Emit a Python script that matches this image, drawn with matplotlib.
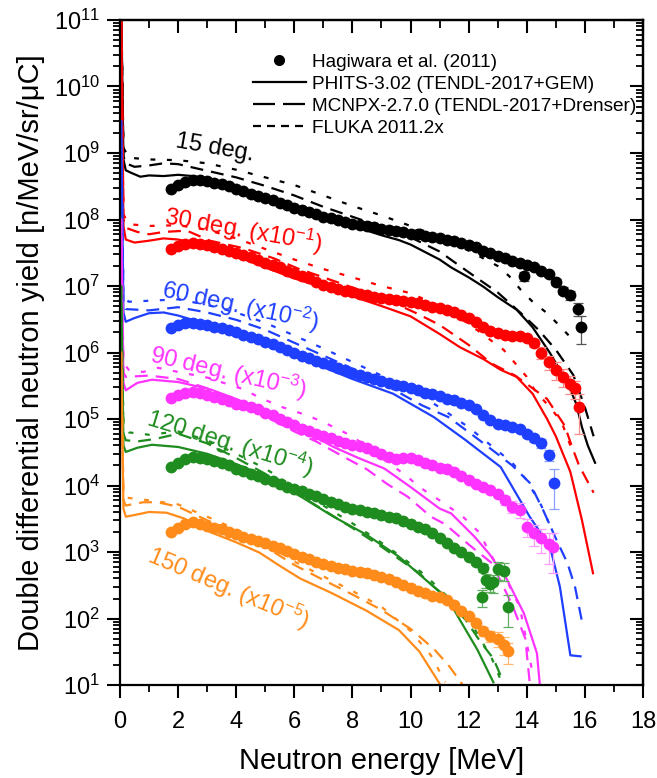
import numpy as np
import matplotlib.pyplot as plt
from matplotlib.lines import Line2D
from matplotlib.ticker import MultipleLocator, LogLocator, NullFormatter

plt.rcParams['font.family'] = ['Liberation Sans', 'DejaVu Sans']
plt.rcParams['mathtext.fontset'] = 'custom'
plt.rcParams['mathtext.rm'] = 'Liberation Sans'
plt.rcParams['mathtext.it'] = 'Liberation Sans:italic'
plt.rcParams['mathtext.bf'] = 'Liberation Sans:bold'
plt.rcParams['mathtext.default'] = 'regular'

# energy bins of the measured spectra [MeV]
e_bins = [1.75, 2.0, 2.25, 2.5, 2.75, 3.0, 3.25, 3.5, 3.75, 4.0, 4.25, 4.5,
          4.75, 5.0, 5.25, 5.5, 5.75, 6.0, 6.25, 6.5, 6.75, 7.0, 7.25, 7.5,
          7.75, 8.0, 8.25, 8.5, 8.75, 9.0, 9.25, 9.5, 9.75, 10.0, 10.25, 10.5,
          10.75, 11.0, 11.25, 11.5, 11.75, 12.0, 12.25, 12.5, 12.75, 13.0,
          13.25, 13.5, 13.75, 14.0, 14.25, 14.5, 14.75, 15.0, 15.25, 15.5,
          15.75]

# ---- 15 deg ----
meas15 = [2.9e8, 3.3e8, 3.7e8, 3.9e8, 3.9e8, 3.8e8, 3.6e8, 3.4e8, 3.2e8, 2.9e8,
          2.7e8, 2.45e8, 2.25e8, 2.1e8, 1.95e8, 1.8e8, 1.65e8, 1.5e8, 1.4e8,
          1.3e8, 1.2e8, 1.1e8, 1.05e8, 9.8e7, 9.2e7, 8.7e7, 8.3e7, 7.9e7, 7.6e7,
          7.2e7, 7.0e7, 6.7e7, 6.4e7, 6.1e7, 6.0e7, 5.7e7, 5.4e7, 5.2e7, 5.0e7,
          4.7e7, 4.5e7, 4.2e7, 3.8e7, 3.4e7, 3.1e7, 2.8e7, 2.6e7, 2.4e7, 2.25e7,
          2.1e7, 1.9e7, 1.7e7, 1.5e7, 1.15e7, 8.5e6, 7.2e6, 4.5e6]
tail15_x = [13.9, 15.85]
tail15_y = [1.4e7, 2.4e6]
rel15 = [0.05, 0.15, 0.05, 0.06, 0.07, 0.08, 0.1, 0.12, 0.15, 0.22, 0.45]
phits15_x = [0.04, 0.12, 0.2, 0.4, 0.7, 1.0, 1.5, 2.0, 2.5, 3.0, 4.0, 5.0, 6.0,
             7.0, 8.0, 9.0, 9.6, 10.0, 11.0, 11.4, 12.0, 12.5, 13.0, 13.65,
             14.2, 14.8, 15.4, 15.7, 15.9, 16.1, 16.35]
phits15_y = [2e11, 8e8, 5.5e8, 5.0e8, 4.4e8, 4.6e8, 4.5e8, 4.7e8, 4.5e8, 4.1e8,
             3.1e8, 2.2e8, 1.55e8, 1.1e8, 8.0e7, 5.8e7, 4.9e7, 4.2e7, 2.5e7,
             1.9e7, 1.35e7, 9.8e6, 6.8e6, 4.4e6, 2.4e6, 9.8e5, 3.5e5, 1.7e5,
             7.5e4, 4e4, 2.2e4]
mcnpx15_x = [0.04, 0.12, 0.2, 0.5, 1.0, 1.5, 2.0, 3.0, 4.0, 5.0, 6.0, 7.0, 8.0,
             9.0, 10.0, 11.0, 11.5, 12.2, 13.0, 13.8, 14.4, 15.0, 15.6, 16.0,
             16.3]
mcnpx15_y = [2e11, 9e8, 7e8, 6.2e8, 6.5e8, 7.0e8, 6.8e8, 5.4e8, 4.3e8, 3.2e8,
             2.3e8, 1.55e8, 1.1e8, 7.8e7, 5.4e7, 3.3e7, 2.3e7, 1.4e7, 8.0e6,
             3.9e6, 2.2e6, 1.1e6, 4.6e5, 1.5e5, 5.5e4]
fluka15_x = [0.04, 0.12, 0.3, 1.0, 2.0, 3.0, 4.0, 5.0, 6.0, 7.0, 8.0, 9.0, 10.0,
             11.0, 12.0, 13.0, 13.4, 13.8, 14.2, 14.7, 15.1, 15.5]
fluka15_y = [2e11, 1.2e9, 8.5e8, 8.0e8, 7.8e8, 7.0e8, 5.6e8, 4.3e8, 3.3e8,
             2.3e8, 1.6e8, 1.15e8, 8.0e7, 5.5e7, 3.4e7, 2.0e7, 1.4e7, 8.7e6,
             5.8e6, 3.9e6, 2.6e6, 1.7e6]

# ---- 30 deg (x10^-1) ----
meas30 = [3.6e7, 4.0e7, 4.3e7, 4.4e7, 4.3e7, 4.1e7, 3.9e7, 3.6e7, 3.4e7, 3.1e7,
          2.9e7, 2.7e7, 2.45e7, 2.25e7, 2.05e7, 1.9e7, 1.7e7, 1.55e7, 1.4e7,
          1.3e7, 1.15e7, 1.05e7, 9.6e6, 9.0e6, 8.5e6, 8.0e6, 7.6e6, 7.2e6,
          6.9e6, 6.6e6, 6.4e6, 6.2e6, 6.0e6, 5.8e6, 5.5e6, 5.2e6, 4.9e6, 4.6e6,
          4.4e6, 4.1e6, 3.7e6, 3.3e6, 2.9e6, 2.4e6, 2.1e6, 1.95e6, 1.85e6,
          1.8e6, 1.75e6, 1.65e6, 1.4e6, 1.0e6, 7.2e5, 5.5e5, 4.3e5, 3.4e5]
tail30_x = [15.65, 15.8]
tail30_y = [2.9e5, 1.5e5]
rel30 = [0.15, 0.2, 0.25, 0.3, 0.3, 0.3, 0.3, 0.6]
phits30_x = [0.04, 0.12, 0.2, 0.5, 1.0, 1.5, 2.0, 3.0, 4.0, 5.0, 6.0, 7.0, 8.0,
             9.0, 10.0, 11.0, 11.7, 12.5, 13.1, 13.65, 14.2, 14.7, 15.0, 15.5,
             15.9, 16.28]
phits30_y = [2e11, 8e7, 5e7, 4.5e7, 4.8e7, 5.2e7, 5.0e7, 4.0e7, 2.8e7, 1.9e7,
             1.3e7, 9.5e6, 7.0e6, 5.0e6, 3.5e6, 1.9e6, 1.2e6, 8.0e5, 5.5e5,
             4.3e5, 2.4e5, 1.0e5, 5.5e4, 1.6e4, 3.0e3, 480]
mcnpx30_x = [0.04, 0.12, 0.2, 0.6, 1.0, 1.5, 2.3, 3.1, 4.25, 5.3, 6.1, 7.0, 8.0,
             9.0, 10.2, 11.0, 12.0, 12.8, 13.6, 14.2, 14.7, 15.3, 15.6, 15.8,
             16.3]
mcnpx30_y = [2e11, 1e8, 7.5e7, 6.5e7, 6.0e7, 6.5e7, 6.8e7, 4.8e7, 3.7e7, 2.6e7,
             1.85e7, 1.35e7, 9.5e6, 6.8e6, 3.9e6, 2.6e6, 1.3e6, 6.8e5, 4.5e5,
             2.9e5, 2.0e5, 8e4, 3.4e4, 2.0e4, 7.8e3]
fluka30_x = [0.04, 0.12, 0.3, 1.0, 2.0, 3.0, 4.0, 5.0, 6.0, 7.0, 8.0, 9.0, 10.0,
             11.0, 12.0, 13.2, 13.6, 14.0, 14.3, 14.8, 15.2, 15.5]
fluka30_y = [2e11, 1.2e8, 8.5e7, 8.0e7, 8.2e7, 7.0e7, 5.2e7, 3.6e7, 2.5e7,
             1.8e7, 1.35e7, 1.0e7, 7.8e6, 5.0e6, 2.7e6, 1.1e6, 6.9e5, 4.3e5,
             2.6e5, 1.5e5, 9e4, 4e4]

# ---- 60 deg (x10^-2) ----
meas60 = [2.3e6, 2.6e6, 2.75e6, 2.8e6, 2.7e6, 2.6e6, 2.45e6, 2.3e6, 2.15e6,
          2.0e6, 1.85e6, 1.7e6, 1.6e6, 1.45e6, 1.35e6, 1.2e6, 1.1e6, 9.8e5,
          9.0e5, 8.2e5, 7.5e5, 6.9e5, 6.4e5, 5.8e5, 5.4e5, 5.0e5, 4.6e5, 4.3e5,
          4.0e5, 3.7e5, 3.5e5, 3.3e5, 3.1e5, 2.9e5, 2.7e5, 2.5e5, 2.35e5, 2.2e5,
          2.0e5, 1.9e5, 1.75e5, 1.6e5, 1.4e5, 1.15e5, 9.5e4, 8.5e4, 8.0e4,
          7.5e4, 7.0e4, 6.0e4, 5.2e4, 4.3e4, 2.9e4]
tail60_x = [14.95]
tail60_y = [1.1e4]
rel60 = [0.08, 0.1, 0.12, 0.15, 0.2, 0.6]
phits60_x = [0.04, 0.12, 0.2, 0.5, 1.0, 1.5, 2.0, 2.5, 3.0, 4.0, 5.0, 6.0, 7.0,
             8.0, 9.4, 10.8, 11.9, 12.2, 13.1, 13.3, 14.1, 14.8, 15.14, 15.5,
             15.85]
phits60_y = [3e9, 4e6, 2.9e6, 3.3e6, 3.9e6, 4.0e6, 3.6e6, 3.1e6, 2.7e6, 2.0e6,
             1.4e6, 9.0e5, 6.0e5, 4.0e5, 2.4e5, 1.07e5, 4.8e4, 3.8e4, 1.9e4,
             1.35e4, 3.4e3, 1.2e3, 300, 28, 27]
mcnpx60_x = [0.04, 0.12, 0.2, 1.0, 2.0, 3.0, 4.0, 5.0, 6.0, 7.0, 8.0, 9.0, 10.4,
             11.3, 12.1, 12.9, 13.5, 14.1, 14.56, 15.0, 15.4, 15.66, 15.9]
mcnpx60_y = [3e9, 5.5e6, 4.5e6, 4.3e6, 4.8e6, 4.0e6, 3.1e6, 2.2e6, 1.4e6, 9e5,
             5.7e5, 3.5e5, 1.6e5, 1.07e5, 5.9e4, 3.2e4, 2.0e4, 1.1e4, 4.3e3,
             1.6e3, 680, 300, 90]
fluka60_x = [0.04, 0.12, 0.3, 1.0, 2.0, 3.0, 4.0, 5.0, 6.0, 7.0, 8.0, 9.0, 10.0,
             11.0, 12.0, 12.9, 13.5, 14.0, 14.5, 14.8]
fluka60_y = [3e9, 7e6, 5.8e6, 6.0e6, 6.3e6, 5.2e6, 4.0e6, 2.8e6, 1.8e6, 1.15e6,
             7.2e5, 4.5e5, 2.8e5, 1.5e5, 7.5e4, 3.6e4, 2.2e4, 1.2e4, 5e3, 2.5e3]

# ---- 90 deg (x10^-3) ----
meas90 = [2.1e5, 2.3e5, 2.5e5, 2.55e5, 2.45e5, 2.3e5, 2.15e5, 2.0e5, 1.85e5,
          1.7e5, 1.6e5, 1.5e5, 1.4e5, 1.25e5, 1.15e5, 1.0e5, 9.0e4, 8.0e4,
          7.2e4, 6.6e4, 6.0e4, 5.5e4, 5.1e4, 4.7e4, 4.4e4, 4.1e4, 3.9e4, 3.7e4,
          3.3e4, 3.0e4, 2.7e4, 2.5e4, 2.6e4, 2.6e4, 2.4e4, 2.2e4, 2.0e4, 1.85e4,
          1.8e4, 1.6e4, 1.4e4, 1.2e4, 1.05e4, 9.5e3, 8.5e3, 7.5e3, 6.0e3, 4.8e3,
          4.3e3, 2.4e3, 1.9e3, 1.6e3, 1.3e3]
tail90_x = [14.9]
tail90_y = [1.2e3]
rel90 = [0.15, 0.2, 0.25, 0.3, 0.35, 0.4, 0.5, 0.6]
phits90_x = [0.04, 0.12, 0.2, 0.6, 1.1, 2.0, 3.1, 4.0, 5.0, 6.0, 7.35, 8.2, 9.1,
             10.0, 11.0, 11.4, 12.2, 12.7, 13.3, 13.9, 14.35, 14.45]
phits90_y = [1e8, 3.5e5, 2.7e5, 3.5e5, 3.9e5, 3.6e5, 2.8e5, 2.0e5, 1.3e5, 8.0e4,
             3.8e4, 2.6e4, 1.8e4, 9.5e3, 4.5e3, 3.8e3, 1.7e3, 950, 400, 120, 30,
             10]
mcnpx90_x = [0.04, 0.12, 0.2, 1.0, 2.0, 3.0, 4.0, 5.0, 6.0, 6.75, 7.7, 8.5, 9.2,
             9.9, 10.7, 11.2, 12.0, 12.8, 13.5, 13.95, 14.1]
mcnpx90_y = [1e8, 5e5, 4.3e5, 4.5e5, 4.0e5, 2.9e5, 1.8e5, 1.1e5, 6.5e4, 4.6e4,
             2.7e4, 1.75e4, 1.05e4, 6.8e3, 3.4e3, 2.6e3, 1.3e3, 680, 160, 50, 11]
fluka90_x = [0.04, 0.12, 0.3, 0.8, 1.3, 2.0, 3.0, 4.25, 4.8, 5.6, 6.4, 7.0, 8.0,
             9.0, 9.86, 10.3, 11.1, 11.8, 12.4, 12.7, 13.3, 13.76, 14.2]
fluka90_y = [1e8, 7e5, 5.5e5, 5.1e5, 5.9e5, 5.1e5, 4.2e5, 2.8e5, 2.1e5, 1.5e5,
             1.15e5, 9e4, 5.5e4, 2.6e4, 1.4e4, 9.5e3, 5.6e3, 3.4e3, 1.9e3,
             1.0e3, 380, 150, 15]

# ---- 120 deg (x10^-4) ----
meas120 = [1.9e4, 2.2e4, 2.5e4, 2.7e4, 2.6e4, 2.5e4, 2.3e4, 2.2e4, 2.0e4, 1.8e4,
           1.65e4, 1.5e4, 1.4e4, 1.25e4, 1.15e4, 1.05e4, 9.5e3, 8.8e3, 8.2e3,
           7.5e3, 7.0e3, 6.3e3, 5.7e3, 5.3e3, 4.8e3, 4.5e3, 4.3e3, 4.0e3, 3.8e3,
           3.6e3, 3.4e3, 3.2e3, 2.9e3, 2.6e3, 2.4e3, 2.2e3, 1.9e3, 1.6e3,
           1.35e3, 1.15e3, 1.0e3, 850, 700, 580]
tail120_x = [12.45, 12.6, 12.75, 12.85, 13.0, 13.2, 13.35]
tail120_y = [210, 380, 330, 350, 550, 520, 150]
rel120 = [0.1, 0.3, 0.15, 0.25, 0.25, 0.3, 0.3, 0.3, 0.5]
phits120_x = [0.04, 0.12, 0.2, 0.6, 1.1, 2.0, 3.0, 4.0, 5.0, 6.3, 7.35, 8.5, 9.6,
              10.8, 11.25, 11.7, 12.3, 12.85]
phits120_y = [1e7, 4e4, 3.2e4, 3.7e4, 4.1e4, 3.8e4, 3.0e4, 2.1e4, 1.4e4, 6.5e3,
              3.4e3, 1.8e3, 850, 300, 210, 95, 34, 11]
mcnpx120_x = [0.04, 0.12, 0.2, 0.6, 1.2, 2.0, 3.0, 4.0, 5.0, 6.0, 7.0, 8.0, 9.0,
              10.3, 11.0, 11.9, 12.4, 12.85, 13.2]
mcnpx120_y = [1e7, 6e4, 4.8e4, 4.6e4, 5.0e4, 6.0e4, 4.3e4, 2.6e4, 1.5e4, 8.0e3,
              4.3e3, 2.3e3, 1.2e3, 480, 250, 95, 45, 25, 11]
fluka120_x = [0.04, 0.12, 0.3, 1.0, 2.0, 3.0, 4.0, 5.0, 6.0, 7.0, 8.0, 8.7, 9.6,
              10.5, 11.5, 12.2, 12.8, 13.1]
fluka120_y = [1e7, 8e4, 6.3e4, 5.8e4, 6.5e4, 4.8e4, 3.0e4, 1.8e4, 9.5e3, 5.0e3,
              2.7e3, 1.7e3, 900, 450, 170, 70, 25, 12]

# ---- 150 deg (x10^-5) ----
meas150 = [2.0e3, 2.3e3, 2.6e3, 2.8e3, 2.6e3, 2.5e3, 2.3e3, 2.2e3, 2.0e3,
           1.85e3, 1.7e3, 1.55e3, 1.45e3, 1.35e3, 1.25e3, 1.15e3, 1.05e3, 950,
           850, 780, 700, 650, 610, 580, 550, 520, 500, 480, 450, 420, 390, 350,
           320, 290, 260, 240, 220, 210, 190, 160, 130, 110, 85, 65, 55, 50]
tail150_x = [13.2, 13.35]
tail150_y = [40, 32]
rel150 = [0.15, 0.2, 0.25, 0.3, 0.35]
phits150_x = [0.04, 0.12, 0.2, 0.5, 1.0, 1.6, 2.2, 3.1, 4.0, 4.8, 5.5, 6.2, 7.3,
              8.5, 9.6, 10.3, 11.0]
phits150_y = [1e6, 4.5e3, 3.4e3, 3.6e3, 4.0e3, 3.9e3, 3.2e3, 2.0e3, 1.4e3, 980,
              620, 400, 240, 130, 67, 32, 10.5]
mcnpx150_x = [0.04, 0.12, 0.2, 0.8, 1.3, 2.0, 3.0, 4.0, 5.0, 6.0, 7.0, 8.0, 9.0,
              10.0, 10.8, 11.3, 11.8]
mcnpx150_y = [1e6, 6e3, 5e3, 5.6e3, 5.6e3, 4.8e3, 3.0e3, 2.0e3, 1.2e3, 640,
              380, 230, 135, 70, 35, 20, 10]
fluka150_x = [0.04, 0.12, 0.3, 1.0, 2.0, 3.0, 4.0, 5.0, 6.0, 7.0, 8.0, 9.0,
              10.0, 10.7, 11.2]
fluka150_y = [1e6, 7e3, 6.5e3, 6.0e3, 5.2e3, 3.4e3, 2.2e3, 1.35e3, 720, 430,
              260, 150, 65, 28, 11]

colors = ['#000000', '#ff0000', '#1f3fff', '#ff33ff', '#1e8c1e', '#ff8c1a']
err_colors = ['#555555', '#ff8a8a', '#8aa0ff', '#ff9cff', '#5fae5f', '#ffb870']
angle_labels = ['15 deg.', r'30 deg. (x10$^{-1}$)', r'60 deg. (x10$^{-2}$)',
                r'90 deg. (x10$^{-3}$)', r'120 deg. (x10$^{-4}$)',
                r'150 deg. (x10$^{-5}$)']
label_pos = [(3.27, 1.2e9), (4.23, 6.9e7), (4.13, 5.1e6), (3.72, 5.1e5),
             (3.79, 4.4e4), (3.72, 2.9e2)]
label_rot = [-10, -10, -12, -13, -17, -23]

groups = [
    (meas15, tail15_x, tail15_y, rel15, (phits15_x, phits15_y),
     (mcnpx15_x, mcnpx15_y), (fluka15_x, fluka15_y)),
    (meas30, tail30_x, tail30_y, rel30, (phits30_x, phits30_y),
     (mcnpx30_x, mcnpx30_y), (fluka30_x, fluka30_y)),
    (meas60, tail60_x, tail60_y, rel60, (phits60_x, phits60_y),
     (mcnpx60_x, mcnpx60_y), (fluka60_x, fluka60_y)),
    (meas90, tail90_x, tail90_y, rel90, (phits90_x, phits90_y),
     (mcnpx90_x, mcnpx90_y), (fluka90_x, fluka90_y)),
    (meas120, tail120_x, tail120_y, rel120, (phits120_x, phits120_y),
     (mcnpx120_x, mcnpx120_y), (fluka120_x, fluka120_y)),
    (meas150, tail150_x, tail150_y, rel150, (phits150_x, phits150_y),
     (mcnpx150_x, mcnpx150_y), (fluka150_x, fluka150_y)),
]

LW = 1.6
DASHED = (5.8, 3.6)
DOTTED = (2.2, 5.2)

fig = plt.figure(figsize=(6.57, 7.78), dpi=100)
ax = fig.add_axes([0.1826, 0.1195, 0.7961, 0.8548])

for i, (meas, tx, ty, rel, phits, mcnpx, fluka) in enumerate(groups):
    c = colors[i]
    ax.plot(phits[0], phits[1], color=c, lw=LW, zorder=2)
    ax.plot(mcnpx[0], mcnpx[1], color=c, lw=LW, dashes=DASHED, zorder=2)
    ax.plot(fluka[0], fluka[1], color=c, lw=LW, dashes=DOTTED, zorder=2)

    x = np.array(e_bins[:len(meas)] + tx)
    y = np.array(meas + ty)
    order = np.argsort(x, kind='stable')
    x, y = x[order], y[order]
    n = len(rel)
    ax.errorbar(x[-n:], y[-n:], yerr=y[-n:] * np.array(rel), fmt='none',
                ecolor=err_colors[i], elinewidth=0.9, capsize=3.5,
                capthick=0.9, zorder=2.5)
    ax.plot(x, y, 'o', color=c, ms=8.5, mew=0, zorder=3)

    ax.text(label_pos[i][0], label_pos[i][1], angle_labels[i], color=c,
            fontsize=17, rotation=label_rot[i], ha='center', va='center',
            rotation_mode='anchor')

ax.set_yscale('log')
ax.set_xlim(0, 18)
ax.set_ylim(10, 1e11)
ax.xaxis.set_major_locator(MultipleLocator(2))
ax.xaxis.set_minor_locator(MultipleLocator(1))
ax.yaxis.set_major_locator(LogLocator(base=10, numticks=20))
ax.yaxis.set_minor_locator(LogLocator(base=10, subs=np.arange(2, 10), numticks=20))
ax.yaxis.set_minor_formatter(NullFormatter())

ax.tick_params(which='major', direction='out', length=9.5, width=1.5,
               labelsize=17, pad=5)
ax.tick_params(which='minor', direction='out', length=5, width=1.3)
ax.tick_params(axis='x', which='major', pad=9)

top = ax.secondary_xaxis('top')
top.xaxis.set_major_locator(MultipleLocator(2))
top.xaxis.set_minor_locator(MultipleLocator(1))
top.tick_params(which='major', direction='in', length=9.5, width=1.5, labeltop=False)
top.tick_params(which='minor', direction='in', length=6, width=1.3)
right = ax.secondary_yaxis('right')
right.yaxis.set_major_locator(LogLocator(base=10, numticks=20))
right.yaxis.set_minor_locator(LogLocator(base=10, subs=np.arange(2, 10), numticks=20))
right.tick_params(which='major', direction='in', length=9.5, width=1.5, labelright=False)
right.tick_params(which='minor', direction='in', length=5, width=1.3)
right.yaxis.set_minor_formatter(NullFormatter())
for a in (ax, top, right):
    for s in a.spines.values():
        s.set_linewidth(1.6)

ax.set_xlabel('Neutron energy [MeV]', fontsize=21, labelpad=10)
ax.set_ylabel('Double differential neutron yield [n/MeV/sr/\u03bcC]', fontsize=21,
              labelpad=6)

handles = [Line2D([], [], ls='none', marker='o', color='k', ms=8, mew=0),
           Line2D([], [], color='k', lw=LW),
           Line2D([], [], color='k', lw=LW, dashes=(9.9, 3.6)),
           Line2D([], [], color='k', lw=LW, dashes=(3.6, 2.7))]
labels = ['Hagiwara et al. (2011)', 'PHITS-3.02 (TENDL-2017+GEM)',
          'MCNPX-2.7.0 (TENDL-2017+Drenser)', 'FLUKA 2011.2x']
ax.legend(handles, labels, loc='upper left', bbox_to_anchor=(0.254, 0.95),
          frameon=False, fontsize=13.7, handlelength=2.8, handletextpad=0.3,
          labelspacing=0.25, borderpad=0, borderaxespad=0)

fig.savefig('out.png', dpi=100)
